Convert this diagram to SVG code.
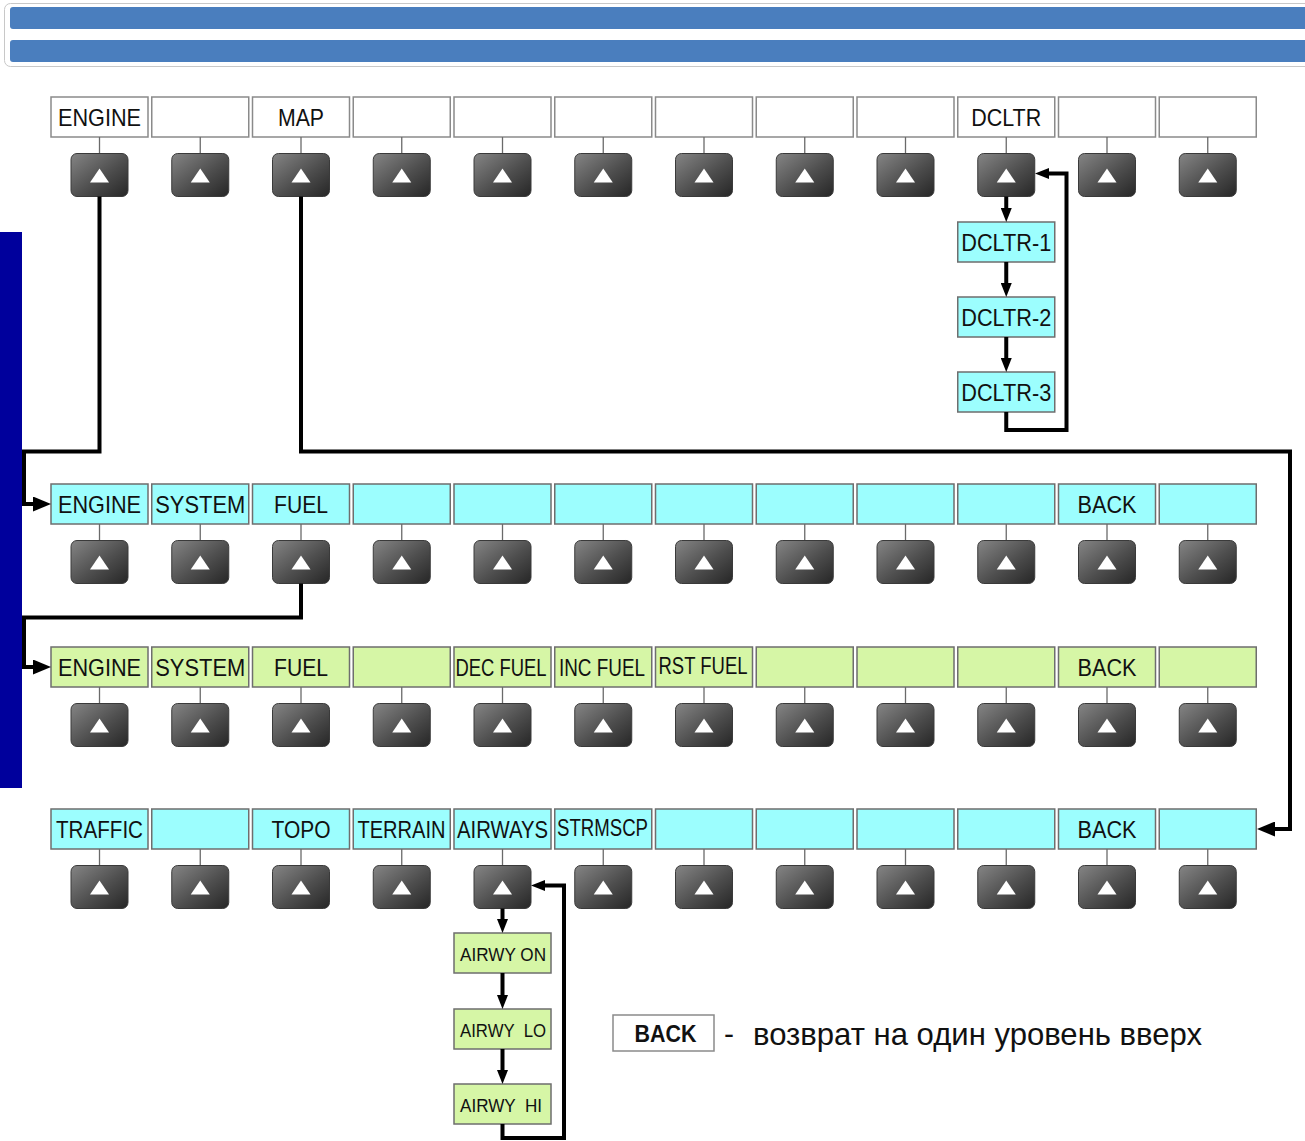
<svg xmlns="http://www.w3.org/2000/svg" width="1305" height="1141" viewBox="0 0 1305 1141">
<style>
.lbl{stroke:#6e6e6e;stroke-width:1.5}
.w{fill:#ffffff;stroke:#8a8a8a}
.c{fill:#9cfefe}
.g{fill:#d6f6a6}
.stem{stroke:#6a6a6a;stroke-width:1.3}
.t{font-family:"Liberation Sans",Arial,sans-serif;font-size:24px;fill:#111;text-anchor:middle}
.ts{font-family:"Liberation Sans",Arial,sans-serif;font-size:17.5px;fill:#111;text-anchor:middle}
.con{fill:none;stroke:#000;stroke-width:4;stroke-linejoin:miter}
.big{marker-end:url(#ab)}
.sm{marker-end:url(#as)}
</style>
<defs>
<linearGradient id="bg" x1="0" y1="0" x2="1" y2="1">
<stop offset="0" stop-color="#858585"/>
<stop offset="0.55" stop-color="#4e4e4e"/>
<stop offset="1" stop-color="#262626"/>
</linearGradient>
<g id="btn">
<rect x="-28.5" y="0" width="57" height="43" rx="6" fill="url(#bg)" stroke="#3a3a3a" stroke-width="1"/>
<polygon points="0,15 9.5,29 -9.5,29" fill="#ffffff"/>
</g>
<marker id="ab" viewBox="0 0 10 10" refX="0" refY="5" markerWidth="18" markerHeight="15" markerUnits="userSpaceOnUse" orient="auto" preserveAspectRatio="none">
<path d="M0,0 L10,5 L0,10 z" fill="#000"/>
</marker>
<marker id="as" viewBox="0 0 10 10" refX="0" refY="5" markerWidth="14" markerHeight="11" markerUnits="userSpaceOnUse" orient="auto" preserveAspectRatio="none">
<path d="M0,0 L10,5 L0,10 z" fill="#000"/>
</marker>
</defs>

<rect width="1305" height="1141" fill="#ffffff"/>

<g id="header">
<rect x="4.5" y="3.5" width="1320" height="63" rx="6" fill="#ffffff" stroke="#c8c8c8" stroke-width="1"/>
<rect x="10" y="7" width="1310" height="22" rx="3" fill="#4a7ebe"/>
<rect x="10" y="40" width="1310" height="22" rx="3" fill="#4a7ebe"/>
</g>
<rect id="sidebar" x="0" y="232" width="22" height="556" fill="#00009c"/>

<!-- Row 1 -->
<g id="row1">
<g id="r1c0"><rect class="lbl w" x="51" y="97" width="97" height="40"/><text class="t" x="99.5" y="125.5" textLength="83" lengthAdjust="spacingAndGlyphs">ENGINE</text><line class="stem" x1="99.5" y1="137" x2="99.5" y2="153.5"/><use href="#btn" x="99.5" y="153.5"/></g>
<g id="r1c1"><rect class="lbl w" x="151.75" y="97" width="97" height="40"/><line class="stem" x1="200.25" y1="137" x2="200.25" y2="153.5"/><use href="#btn" x="200.25" y="153.5"/></g>
<g id="r1c2"><rect class="lbl w" x="252.5" y="97" width="97" height="40"/><text class="t" x="301" y="125.5" textLength="46" lengthAdjust="spacingAndGlyphs">MAP</text><line class="stem" x1="301" y1="137" x2="301" y2="153.5"/><use href="#btn" x="301" y="153.5"/></g>
<g id="r1c3"><rect class="lbl w" x="353.25" y="97" width="97" height="40"/><line class="stem" x1="401.75" y1="137" x2="401.75" y2="153.5"/><use href="#btn" x="401.75" y="153.5"/></g>
<g id="r1c4"><rect class="lbl w" x="454" y="97" width="97" height="40"/><line class="stem" x1="502.5" y1="137" x2="502.5" y2="153.5"/><use href="#btn" x="502.5" y="153.5"/></g>
<g id="r1c5"><rect class="lbl w" x="554.75" y="97" width="97" height="40"/><line class="stem" x1="603.25" y1="137" x2="603.25" y2="153.5"/><use href="#btn" x="603.25" y="153.5"/></g>
<g id="r1c6"><rect class="lbl w" x="655.5" y="97" width="97" height="40"/><line class="stem" x1="704" y1="137" x2="704" y2="153.5"/><use href="#btn" x="704" y="153.5"/></g>
<g id="r1c7"><rect class="lbl w" x="756.25" y="97" width="97" height="40"/><line class="stem" x1="804.75" y1="137" x2="804.75" y2="153.5"/><use href="#btn" x="804.75" y="153.5"/></g>
<g id="r1c8"><rect class="lbl w" x="857" y="97" width="97" height="40"/><line class="stem" x1="905.5" y1="137" x2="905.5" y2="153.5"/><use href="#btn" x="905.5" y="153.5"/></g>
<g id="r1c9"><rect class="lbl w" x="957.75" y="97" width="97" height="40"/><text class="t" x="1006.25" y="125.5" textLength="70" lengthAdjust="spacingAndGlyphs">DCLTR</text><line class="stem" x1="1006.25" y1="137" x2="1006.25" y2="153.5"/><use href="#btn" x="1006.25" y="153.5"/></g>
<g id="r1c10"><rect class="lbl w" x="1058.5" y="97" width="97" height="40"/><line class="stem" x1="1107" y1="137" x2="1107" y2="153.5"/><use href="#btn" x="1107" y="153.5"/></g>
<g id="r1c11"><rect class="lbl w" x="1159.25" y="97" width="97" height="40"/><line class="stem" x1="1207.75" y1="137" x2="1207.75" y2="153.5"/><use href="#btn" x="1207.75" y="153.5"/></g>
</g>

<!-- DCLTR sub-menu -->
<g id="dcltr1"><rect class="lbl c" x="957.75" y="222" width="97" height="40"/><text class="t" x="1006.25" y="250.5" textLength="90" lengthAdjust="spacingAndGlyphs">DCLTR-1</text></g>
<g id="dcltr2"><rect class="lbl c" x="957.75" y="297" width="97" height="40"/><text class="t" x="1006.25" y="325.5" textLength="90" lengthAdjust="spacingAndGlyphs">DCLTR-2</text></g>
<g id="dcltr3"><rect class="lbl c" x="957.75" y="372" width="97" height="40"/><text class="t" x="1006.25" y="400.5" textLength="90" lengthAdjust="spacingAndGlyphs">DCLTR-3</text></g>

<!-- Row 2 -->
<g id="row2">
<g id="r2c0"><rect class="lbl c" x="51" y="484" width="97" height="40"/><text class="t" x="99.5" y="512.5" textLength="83" lengthAdjust="spacingAndGlyphs">ENGINE</text><line class="stem" x1="99.5" y1="524" x2="99.5" y2="540.5"/><use href="#btn" x="99.5" y="540.5"/></g>
<g id="r2c1"><rect class="lbl c" x="151.75" y="484" width="97" height="40"/><text class="t" x="200.25" y="512.5" textLength="90" lengthAdjust="spacingAndGlyphs">SYSTEM</text><line class="stem" x1="200.25" y1="524" x2="200.25" y2="540.5"/><use href="#btn" x="200.25" y="540.5"/></g>
<g id="r2c2"><rect class="lbl c" x="252.5" y="484" width="97" height="40"/><text class="t" x="301" y="512.5" textLength="54" lengthAdjust="spacingAndGlyphs">FUEL</text><line class="stem" x1="301" y1="524" x2="301" y2="540.5"/><use href="#btn" x="301" y="540.5"/></g>
<g id="r2c3"><rect class="lbl c" x="353.25" y="484" width="97" height="40"/><line class="stem" x1="401.75" y1="524" x2="401.75" y2="540.5"/><use href="#btn" x="401.75" y="540.5"/></g>
<g id="r2c4"><rect class="lbl c" x="454" y="484" width="97" height="40"/><line class="stem" x1="502.5" y1="524" x2="502.5" y2="540.5"/><use href="#btn" x="502.5" y="540.5"/></g>
<g id="r2c5"><rect class="lbl c" x="554.75" y="484" width="97" height="40"/><line class="stem" x1="603.25" y1="524" x2="603.25" y2="540.5"/><use href="#btn" x="603.25" y="540.5"/></g>
<g id="r2c6"><rect class="lbl c" x="655.5" y="484" width="97" height="40"/><line class="stem" x1="704" y1="524" x2="704" y2="540.5"/><use href="#btn" x="704" y="540.5"/></g>
<g id="r2c7"><rect class="lbl c" x="756.25" y="484" width="97" height="40"/><line class="stem" x1="804.75" y1="524" x2="804.75" y2="540.5"/><use href="#btn" x="804.75" y="540.5"/></g>
<g id="r2c8"><rect class="lbl c" x="857" y="484" width="97" height="40"/><line class="stem" x1="905.5" y1="524" x2="905.5" y2="540.5"/><use href="#btn" x="905.5" y="540.5"/></g>
<g id="r2c9"><rect class="lbl c" x="957.75" y="484" width="97" height="40"/><line class="stem" x1="1006.25" y1="524" x2="1006.25" y2="540.5"/><use href="#btn" x="1006.25" y="540.5"/></g>
<g id="r2c10"><rect class="lbl c" x="1058.5" y="484" width="97" height="40"/><text class="t" x="1107" y="512.5" textLength="59" lengthAdjust="spacingAndGlyphs">BACK</text><line class="stem" x1="1107" y1="524" x2="1107" y2="540.5"/><use href="#btn" x="1107" y="540.5"/></g>
<g id="r2c11"><rect class="lbl c" x="1159.25" y="484" width="97" height="40"/><line class="stem" x1="1207.75" y1="524" x2="1207.75" y2="540.5"/><use href="#btn" x="1207.75" y="540.5"/></g>
</g>

<!-- Row 3 -->
<g id="row3">
<g id="r3c0"><rect class="lbl g" x="51" y="647" width="97" height="40"/><text class="t" x="99.5" y="675.5" textLength="83" lengthAdjust="spacingAndGlyphs">ENGINE</text><line class="stem" x1="99.5" y1="687" x2="99.5" y2="703.5"/><use href="#btn" x="99.5" y="703.5"/></g>
<g id="r3c1"><rect class="lbl g" x="151.75" y="647" width="97" height="40"/><text class="t" x="200.25" y="675.5" textLength="90" lengthAdjust="spacingAndGlyphs">SYSTEM</text><line class="stem" x1="200.25" y1="687" x2="200.25" y2="703.5"/><use href="#btn" x="200.25" y="703.5"/></g>
<g id="r3c2"><rect class="lbl g" x="252.5" y="647" width="97" height="40"/><text class="t" x="301" y="675.5" textLength="54" lengthAdjust="spacingAndGlyphs">FUEL</text><line class="stem" x1="301" y1="687" x2="301" y2="703.5"/><use href="#btn" x="301" y="703.5"/></g>
<g id="r3c3"><rect class="lbl g" x="353.25" y="647" width="97" height="40"/><line class="stem" x1="401.75" y1="687" x2="401.75" y2="703.5"/><use href="#btn" x="401.75" y="703.5"/></g>
<g id="r3c4"><rect class="lbl g" x="454" y="647" width="97" height="40"/><text class="t" x="501" y="675.5" textLength="91" lengthAdjust="spacingAndGlyphs">DEC FUEL</text><line class="stem" x1="502.5" y1="687" x2="502.5" y2="703.5"/><use href="#btn" x="502.5" y="703.5"/></g>
<g id="r3c5"><rect class="lbl g" x="554.75" y="647" width="97" height="40"/><text class="t" x="602" y="675.5" textLength="86" lengthAdjust="spacingAndGlyphs">INC FUEL</text><line class="stem" x1="603.25" y1="687" x2="603.25" y2="703.5"/><use href="#btn" x="603.25" y="703.5"/></g>
<g id="r3c6"><rect class="lbl g" x="655.5" y="647" width="97" height="40"/><text class="t" x="703" y="673.5" textLength="89" lengthAdjust="spacingAndGlyphs">RST FUEL</text><line class="stem" x1="704" y1="687" x2="704" y2="703.5"/><use href="#btn" x="704" y="703.5"/></g>
<g id="r3c7"><rect class="lbl g" x="756.25" y="647" width="97" height="40"/><line class="stem" x1="804.75" y1="687" x2="804.75" y2="703.5"/><use href="#btn" x="804.75" y="703.5"/></g>
<g id="r3c8"><rect class="lbl g" x="857" y="647" width="97" height="40"/><line class="stem" x1="905.5" y1="687" x2="905.5" y2="703.5"/><use href="#btn" x="905.5" y="703.5"/></g>
<g id="r3c9"><rect class="lbl g" x="957.75" y="647" width="97" height="40"/><line class="stem" x1="1006.25" y1="687" x2="1006.25" y2="703.5"/><use href="#btn" x="1006.25" y="703.5"/></g>
<g id="r3c10"><rect class="lbl g" x="1058.5" y="647" width="97" height="40"/><text class="t" x="1107" y="675.5" textLength="59" lengthAdjust="spacingAndGlyphs">BACK</text><line class="stem" x1="1107" y1="687" x2="1107" y2="703.5"/><use href="#btn" x="1107" y="703.5"/></g>
<g id="r3c11"><rect class="lbl g" x="1159.25" y="647" width="97" height="40"/><line class="stem" x1="1207.75" y1="687" x2="1207.75" y2="703.5"/><use href="#btn" x="1207.75" y="703.5"/></g>
</g>

<!-- Row 4 -->
<g id="row4">
<g id="r4c0"><rect class="lbl c" x="51" y="809" width="97" height="40"/><text class="t" x="99.5" y="837.5" textLength="87" lengthAdjust="spacingAndGlyphs">TRAFFIC</text><line class="stem" x1="99.5" y1="849" x2="99.5" y2="865.5"/><use href="#btn" x="99.5" y="865.5"/></g>
<g id="r4c1"><rect class="lbl c" x="151.75" y="809" width="97" height="40"/><line class="stem" x1="200.25" y1="849" x2="200.25" y2="865.5"/><use href="#btn" x="200.25" y="865.5"/></g>
<g id="r4c2"><rect class="lbl c" x="252.5" y="809" width="97" height="40"/><text class="t" x="301" y="837.5" textLength="59" lengthAdjust="spacingAndGlyphs">TOPO</text><line class="stem" x1="301" y1="849" x2="301" y2="865.5"/><use href="#btn" x="301" y="865.5"/></g>
<g id="r4c3"><rect class="lbl c" x="353.25" y="809" width="97" height="40"/><text class="t" x="401.5" y="837.5" textLength="88" lengthAdjust="spacingAndGlyphs">TERRAIN</text><line class="stem" x1="401.75" y1="849" x2="401.75" y2="865.5"/><use href="#btn" x="401.75" y="865.5"/></g>
<g id="r4c4"><rect class="lbl c" x="454" y="809" width="97" height="40"/><text class="t" x="502.5" y="837.5" textLength="91" lengthAdjust="spacingAndGlyphs">AIRWAYS</text><line class="stem" x1="502.5" y1="849" x2="502.5" y2="865.5"/><use href="#btn" x="502.5" y="865.5"/></g>
<g id="r4c5"><rect class="lbl c" x="554.75" y="809" width="97" height="40"/><text class="t" x="602.5" y="835.5" textLength="91" lengthAdjust="spacingAndGlyphs">STRMSCP</text><line class="stem" x1="603.25" y1="849" x2="603.25" y2="865.5"/><use href="#btn" x="603.25" y="865.5"/></g>
<g id="r4c6"><rect class="lbl c" x="655.5" y="809" width="97" height="40"/><line class="stem" x1="704" y1="849" x2="704" y2="865.5"/><use href="#btn" x="704" y="865.5"/></g>
<g id="r4c7"><rect class="lbl c" x="756.25" y="809" width="97" height="40"/><line class="stem" x1="804.75" y1="849" x2="804.75" y2="865.5"/><use href="#btn" x="804.75" y="865.5"/></g>
<g id="r4c8"><rect class="lbl c" x="857" y="809" width="97" height="40"/><line class="stem" x1="905.5" y1="849" x2="905.5" y2="865.5"/><use href="#btn" x="905.5" y="865.5"/></g>
<g id="r4c9"><rect class="lbl c" x="957.75" y="809" width="97" height="40"/><line class="stem" x1="1006.25" y1="849" x2="1006.25" y2="865.5"/><use href="#btn" x="1006.25" y="865.5"/></g>
<g id="r4c10"><rect class="lbl c" x="1058.5" y="809" width="97" height="40"/><text class="t" x="1107" y="837.5" textLength="59" lengthAdjust="spacingAndGlyphs">BACK</text><line class="stem" x1="1107" y1="849" x2="1107" y2="865.5"/><use href="#btn" x="1107" y="865.5"/></g>
<g id="r4c11"><rect class="lbl c" x="1159.25" y="809" width="97" height="40"/><line class="stem" x1="1207.75" y1="849" x2="1207.75" y2="865.5"/><use href="#btn" x="1207.75" y="865.5"/></g>
</g>

<!-- AIRWAYS sub-menu -->
<g id="airwy-on"><rect class="lbl g" x="454" y="933" width="97" height="40"/><text class="ts" x="503" y="961" textLength="86" lengthAdjust="spacingAndGlyphs">AIRWY ON</text></g>
<g id="airwy-lo"><rect class="lbl g" x="454" y="1009" width="97" height="40"/><text class="ts" x="503" y="1037" textLength="86" lengthAdjust="spacingAndGlyphs" xml:space="preserve">AIRWY  LO</text></g>
<g id="airwy-hi"><rect class="lbl g" x="454" y="1084" width="97" height="40"/><text class="ts" x="501" y="1112" textLength="82" lengthAdjust="spacingAndGlyphs" xml:space="preserve">AIRWY  HI</text></g>

<!-- connectors -->
<g id="connectors">
<path class="con big" d="M99.5,196.5 V451.5 H24 V504 H33"/>
<path class="con big" d="M301,196.5 V451.5 H1290 V829 H1275"/>
<path class="con big" d="M301,583.5 V617.5 H24 V667 H33"/>
<path class="con sm" d="M1006.25,196.5 V208"/>
<path class="con sm" d="M1006.25,262 V283"/>
<path class="con sm" d="M1006.25,337 V358"/>
<path class="con sm" d="M1006.25,412 V430 H1066.5 V173.5 H1049"/>
<path class="con sm" d="M502.5,908.5 V919"/>
<path class="con sm" d="M502.5,973 V995"/>
<path class="con sm" d="M502.5,1049 V1070"/>
<path class="con sm" d="M502.5,1124 V1138 H564 V885.5 H545"/>
</g>

<!-- legend -->
<g id="legend">
<rect x="613" y="1015" width="101" height="36" fill="#ffffff" stroke="#8a8a8a" stroke-width="1.5"/>
<text x="665.5" y="1042" font-family="'Liberation Sans',Arial,sans-serif" font-size="23" font-weight="bold" text-anchor="middle" fill="#111" textLength="62" lengthAdjust="spacingAndGlyphs">BACK</text>
<text x="729" y="1044" font-family="'Liberation Sans',Arial,sans-serif" font-size="30" text-anchor="middle" fill="#111">-</text>
<text x="753" y="1045" font-family="'Liberation Sans',Arial,sans-serif" font-size="32" fill="#111" textLength="449" lengthAdjust="spacingAndGlyphs">возврат на один уровень вверх</text>
</g>
</svg>
